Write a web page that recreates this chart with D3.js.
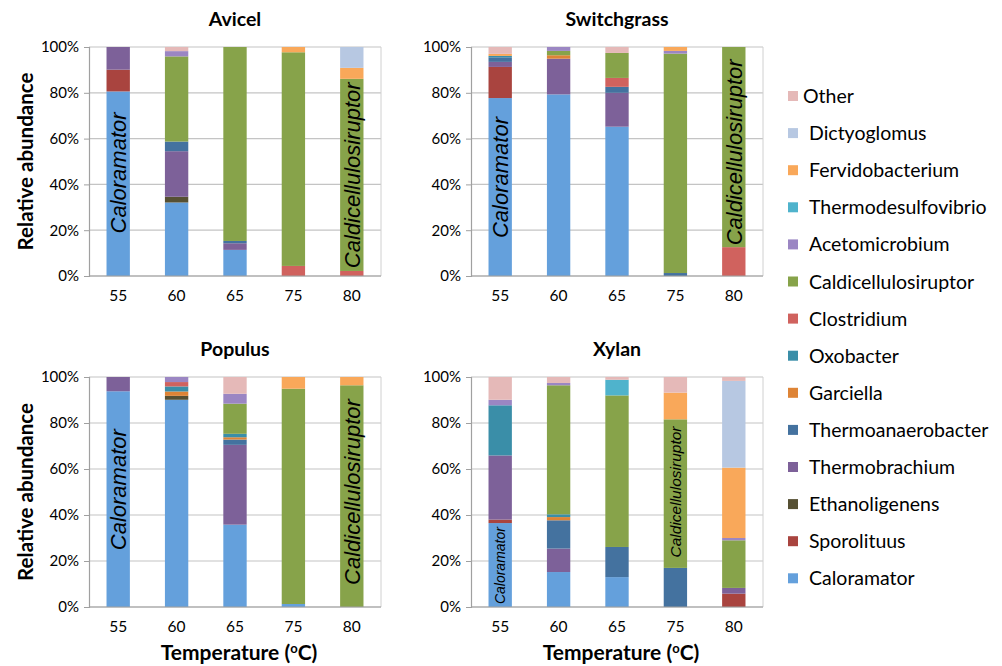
<!DOCTYPE html>
<html>
<head>
<meta charset="utf-8">
<script src="https://cdn.jsdelivr.net/npm/d3@7"></script>
<style>
  body { margin: 0; background: #fff; }
  text { font-family: Lato, "Open Sans", sans-serif; fill: #000; }
</style>
</head>
<body>
<svg width="1002" height="666"></svg>
<script>
// temperatures on the x axis
const temps = ['55', '60', '65', '75', '80'];

// genera in stacking order (bottom -> top)
const genera = ['Caloramator', 'Sporolituus', 'Ethanoligenens', 'Thermobrachium',
  'Thermoanaerobacter', 'Garciella', 'Oxobacter', 'Clostridium', 'Caldicellulosiruptor',
  'Acetomicrobium', 'Thermodesulfovibrio', 'Fervidobacterium', 'Dictyoglomus', 'Other'];

const colors = ['#64a0dc', '#a9443f', '#565033', '#7d6199', '#44729f', '#de8436',
  '#3a8ea8', '#d0625e', '#87a34a', '#9b86c3', '#4fb3cc', '#f9a85a', '#b7c8e2', '#e5b9b8'];

const yTicks = [0, 20, 40, 60, 80, 100];

// one row per genus (same order as genera), one column per temperature
const avicel = [
  [80.6, 32.1, 11.4, 0, 0],
  [9.5, 0, 0, 0, 0],
  [0, 2.5, 0, 0, 0],
  [9.9, 19.9, 2.9, 0, 0],
  [0, 4.2, 1.0, 0, 0],
  [0, 0, 0, 0, 0],
  [0, 0, 0, 0, 0],
  [0, 0, 0, 4.4, 2.2],
  [0, 37.2, 84.7, 93.3, 83.9],
  [0, 2.3, 0, 0, 0],
  [0, 0, 0, 0, 0],
  [0, 0, 0, 2.3, 4.8],
  [0, 0, 0, 0, 9.1],
  [0, 1.8, 0, 0, 0]
];

const switchgrass = [
  [77.7, 79.3, 65.2, 0, 0],
  [13.6, 0, 0, 0, 0],
  [0, 0, 0, 0, 0],
  [2.2, 15.6, 14.8, 0, 0],
  [2.0, 0, 2.6, 1.3, 0],
  [0, 1.5, 0, 0, 0],
  [0.6, 0, 0, 0, 0],
  [0, 0, 3.9, 0, 12.6],
  [0, 1.9, 10.9, 95.8, 87.4],
  [0, 1.7, 0, 1.2, 0],
  [0, 0, 0, 0, 0],
  [0.9, 0, 0, 1.7, 0],
  [0, 0, 0, 0, 0],
  [3.0, 0, 2.6, 0, 0]
];

const populus = [
  [93.8, 90.1, 35.8, 1.3, 0],
  [0, 0, 0, 0, 0],
  [0, 1.7, 0, 0, 0],
  [6.2, 0, 34.7, 0, 0],
  [0, 0, 2.3, 0, 0],
  [0, 1.9, 1.0, 0, 0],
  [0, 2.2, 1.5, 0, 0],
  [0, 1.9, 0, 0, 0],
  [0, 0, 13.1, 93.6, 96.4],
  [0, 2.2, 4.3, 0, 0],
  [0, 0, 0, 0, 0],
  [0, 0, 0, 5.1, 3.6],
  [0, 0, 0, 0, 0],
  [0, 0, 7.3, 0, 0]
];

const xylan = [
  [36.5, 15.2, 13.0, 0, 0],
  [1.5, 0, 0, 0, 5.8],
  [0, 0, 0, 0, 0],
  [27.9, 10.2, 0, 0, 2.5],
  [0, 12.3, 13.1, 17.0, 0],
  [0, 1.4, 0, 0, 0],
  [21.8, 1.2, 0, 0, 0],
  [0, 0, 0, 0, 0],
  [0, 56.1, 65.9, 64.6, 20.7],
  [2.4, 1.0, 0, 0, 1.0],
  [0, 0, 6.8, 0, 0],
  [0, 0, 0, 11.6, 30.6],
  [0, 0, 0, 0, 37.7],
  [9.9, 2.6, 1.2, 6.8, 1.7]
];

// panels: title, data, plot box
const panels = [
  { title: 'Avicel', data: avicel, x: 89, y: 47, w: 292, h: 229, yTitle: true, xTitle: false,
    notes: [{ t: '55', text: 'Caloramator', size: 22, at: 45 }, { t: '80', text: 'Caldicellulosiruptor', size: 22, at: 44 }] },
  { title: 'Switchgrass', data: switchgrass, x: 471, y: 47, w: 292, h: 229, yTitle: false, xTitle: false,
    notes: [{ t: '55', text: 'Caloramator', size: 22, at: 43 }, { t: '80', text: 'Caldicellulosiruptor', size: 22, at: 54 }] },
  { title: 'Populus', data: populus, x: 89, y: 377, w: 292, h: 230, yTitle: true, xTitle: true,
    notes: [{ t: '55', text: 'Caloramator', size: 22, at: 51 }, { t: '80', text: 'Caldicellulosiruptor', size: 22, at: 50 }] },
  { title: 'Xylan', data: xylan, x: 471, y: 377, w: 292, h: 230, yTitle: false, xTitle: true,
    notes: [{ t: '55', text: 'Caloramator', size: 14, at: 18 }, { t: '75', text: 'Caldicellulosiruptor', size: 15.5, at: 50 }] }
];

const svg = d3.select('svg');

panels.forEach(p => {
  const g = svg.append('g').attr('transform', `translate(${p.x},${p.y})`);

  const x = d3.scaleBand().domain(temps).range([0, p.w]).paddingInner(0.6).paddingOuter(0.3);
  const y = d3.scaleLinear().domain([0, 100]).range([p.h, 0]);

  // gridlines
  g.selectAll('.grid').data(yTicks).enter().append('line')
    .attr('x1', 0).attr('x2', p.w)
    .attr('y1', d => y(d)).attr('y2', d => y(d))
    .attr('stroke', '#c4c4c4').attr('stroke-width', 1.2);

  // right border of the plot area
  g.append('line').attr('x1', p.w).attr('x2', p.w).attr('y1', 0).attr('y2', p.h)
    .attr('stroke', '#d0d0d0');

  // stacked bars
  const rows = temps.map((t, j) => {
    const r = { temp: t };
    genera.forEach((gname, i) => { r[gname] = p.data[i][j]; });
    return r;
  });
  const series = d3.stack().keys(genera)(rows);

  g.selectAll('.layer').data(series).enter().append('g')
    .attr('fill', (d, i) => colors[i])
    .selectAll('rect').data(d => d).enter().append('rect')
    .attr('x', d => x(d.data.temp))
    .attr('width', x.bandwidth())
    .attr('y', d => y(d[1]))
    .attr('height', d => Math.max(0, y(d[0]) - y(d[1])));

  // y axis
  const yAxis = g.append('g').call(d3.axisLeft(y).tickValues(yTicks).tickFormat(d => d + '%').tickSize(5).tickPadding(5));
  yAxis.select('.domain').attr('stroke', '#a0a0a0').attr('stroke-width', 1.2);
  yAxis.selectAll('.tick line').attr('stroke', '#a0a0a0');
  yAxis.selectAll('text').style('font-size', '15px').attr('fill', '#000');

  // bottom line
  g.append('line').attr('x1', 0).attr('x2', p.w).attr('y1', p.h).attr('y2', p.h)
    .attr('stroke', '#a0a0a0').attr('stroke-width', 1.2);

  // x axis labels
  const xAxis = g.append('g').attr('transform', `translate(0,${p.h})`)
    .call(d3.axisBottom(x).tickSize(0).tickPadding(14));
  xAxis.select('.domain').remove();
  xAxis.selectAll('text').style('font-size', '15.5px').attr('fill', '#000');

  // title
  svg.append('text')
    .attr('x', p.x + p.w / 2).attr('y', p.y - 21)
    .attr('text-anchor', 'middle')
    .style('font-size', '19.5px').style('font-weight', 'bold')
    .text(p.title);

  if (p.yTitle) {
    svg.append('text')
      .attr('transform', `translate(${33},${p.y + p.h / 2}) rotate(-90)`)
      .attr('text-anchor', 'middle')
      .style('font-size', '20.5px').style('font-weight', 'bold')
      .text('Relative abundance');
  }

  if (p.xTitle) {
    const t = svg.append('text')
      .attr('x', p.x + p.w / 2 + 4).attr('y', p.y + p.h + 53)
      .attr('text-anchor', 'middle')
      .style('font-size', '21px').style('font-weight', 'bold');
    t.append('tspan').text('Temperature (');
    t.append('tspan').attr('dy', -7).style('font-size', '13px').text('o');
    t.append('tspan').attr('dy', 7).text('C)');
  }

  // genus names written inside bars
  p.notes.forEach(n => {
    g.append('text')
      .attr('transform', `translate(${x(n.t) + x.bandwidth() / 2},${y(n.at)}) rotate(-90)`)
      .attr('text-anchor', 'middle')
      .attr('dy', '0.36em')
      .style('font-family', '"Liberation Sans", Arial, sans-serif')
      .style('font-style', 'italic')
      .style('font-size', n.size + 'px')
      .text(n.text);
  });
});

// legend, top entry is last in the stack
const legendItems = genera.slice().reverse();
const legendColors = colors.slice().reverse();
const legend = svg.append('g').attr('transform', 'translate(788,96)');
legend.selectAll('rect').data(legendItems).enter().append('rect')
  .attr('x', 0).attr('y', (d, i) => i * 37.1 - 5)
  .attr('width', 10).attr('height', 10)
  .attr('fill', (d, i) => legendColors[i]);
legend.selectAll('text').data(legendItems).enter().append('text')
  .attr('x', (d, i) => i === 0 ? 15 : 21)
  .attr('y', (d, i) => i * 37.1)
  .attr('dy', '0.36em')
  .style('font-size', '19.5px')
  .text(d => d);
</script>
</body>
</html>
